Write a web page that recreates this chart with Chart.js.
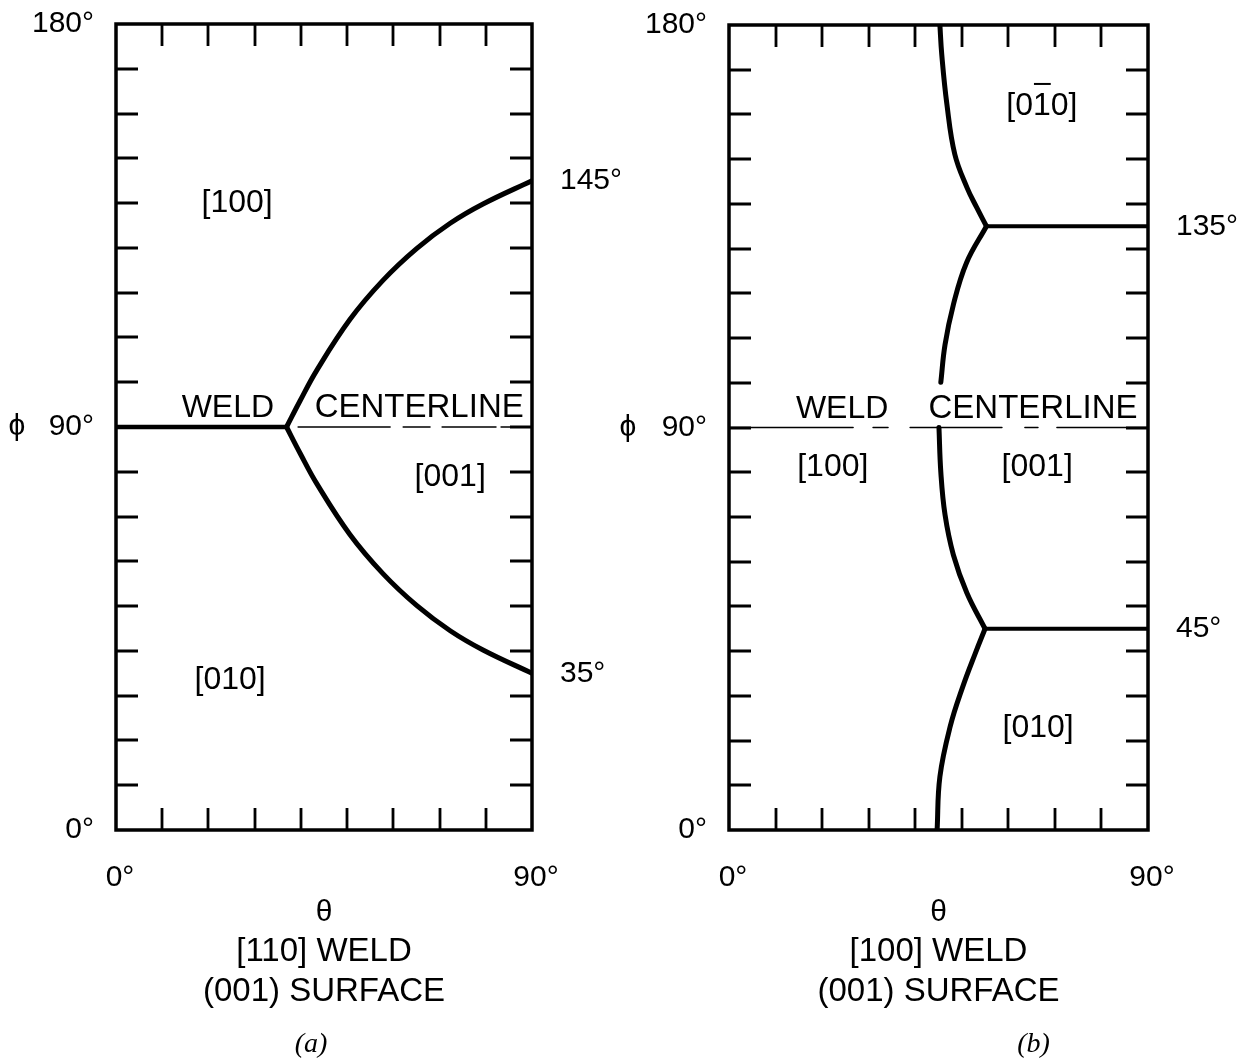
<!DOCTYPE html>
<html>
<head>
<meta charset="utf-8">
<script src="https://cdn.jsdelivr.net/npm/chart.js@4.4.1/dist/chart.umd.min.js"></script>
<style>
  html, body { margin: 0; padding: 0; background: #fff; }
  #wrap { position: relative; width: 1245px; height: 1061px; }
  canvas { position: absolute; top: 0; }
</style>
</head>
<body>
<div id="wrap">
  <canvas id="chartA" width="620" height="1061" style="left:0px"></canvas>
  <canvas id="chartB" width="625" height="1061" style="left:620px"></canvas>
</div>
<script>
// ---------- Axes ----------
const thetaTickValues = [0, 90];
const thetaTickLabels = ["0°", "90°"];
const phiTickValues = [0, 90, 180];
const phiTickLabels = ["0°", "90°", "180°"];

// ---------- Panel (a): [110] weld ----------
const weldA_theta = [0, 37];
const weldA_phi = [90, 90];
const upperA_theta = [36.9, 39.8, 43.4, 50.6, 57.8, 65.1, 72.3, 79.4, 90];
const upperA_phi = [90, 95.8, 102.6, 114, 122.8, 129.9, 135.5, 139.8, 145];
const lowerA_theta = [36.9, 39.8, 43.4, 50.6, 57.8, 65.1, 72.3, 79.4, 90];
const lowerA_phi = [90, 84.2, 77.4, 66, 57.2, 50.1, 44.5, 40.2, 35];
const centerA_theta = [39.4, 90];
const centerA_phi = [90, 90];
const endA_values = [145, 35];
const endA_labels = ["145°", "35°"];
const regionA_text = ["[100]", "[010]", "[001]", "WELD", "CENTERLINE"];
const regionA_theta = [26.2, 24.7, 72.3, 24.2, 65.6];
const regionA_phi = [140, 33.5, 78.8, 94.2, 94.2];
const captionA = ["[110] WELD", "(001) SURFACE", "(a)"];

// ---------- Panel (b): [100] weld ----------
const arcB1_theta = [44.7, 45.3, 47.5, 50.2, 52.9, 55];
const arcB1_phi = [0, 11.9, 23.1, 32, 39.5, 45];
const arcB2_theta = [55, 51.1, 48.2, 46.4, 45.5, 45.1];
const arcB2_phi = [45, 53, 61.5, 70.5, 80, 90];
const arcB3_theta = [45.5, 46.4, 48.2, 51.0, 55.3];
const arcB3_phi = [100.1, 108.5, 117.5, 126.8, 135];
const arcB4_theta = [55.3, 53.2, 51.1, 48.5, 46.8, 45.7, 45.3];
const arcB4_phi = [135, 139.2, 143.7, 151.1, 162.3, 173.4, 180];
const h45_theta = [55, 90];
const h45_phi = [45, 45];
const h135_theta = [55.3, 90];
const h135_phi = [135, 135];
const centerB_theta = [0, 90];
const centerB_phi = [90, 90];
const endB_values = [135, 45];
const endB_labels = ["135°", "45°"];
const regionB_text = ["[01\u03040]", "[100]", "[001]", "[010]", "WELD", "CENTERLINE"];
const regionB_theta = [67.2, 22.3, 66.2, 66.4, 24.3, 65.3];
const regionB_phi = [161.9, 81.1, 81.1, 22.8, 94.2, 94.2];
const captionB = ["[100] WELD", "(001) SURFACE", "(b)"];

const SANS = "'Liberation Sans', Arial, sans-serif";

function line(thetas, phis, width, dash) {
    return {
        data: thetas.map((t, i) => ({ x: t, y: phis[i] })),
        showLine: true,
        borderColor: "#000",
        borderWidth: width,
        borderDash: dash || [],
        borderCapStyle: "round",
        pointRadius: 0,
        tension: 0.4,
        fill: false
    };
}

// draws text, with an overbar where a combining macron follows a digit
function drawLabel(ctx, text, px, py) {
    const bar = text.indexOf("\u0304");
    if (bar < 0) { ctx.fillText(text, px, py); return; }
    const plain = text.replace("\u0304", "");
    ctx.fillText(plain, px, py);
    const w = ctx.measureText(plain).width;
    const x0 = px - w / 2 + ctx.measureText(plain.slice(0, bar - 1)).width;
    const cw = ctx.measureText(plain[bar - 1]).width;
    ctx.fillRect(x0 + 1, py - 23, cw - 1, 2);
}

// ---------- Frame, inward ticks and all text ----------
const decorations = {
    id: "decorations",
    afterDraw(chart, args, o) {
        const { ctx, chartArea: a, scales: { x, y } } = chart;
        ctx.save();
        ctx.strokeStyle = "#000";
        ctx.fillStyle = "#000";

        // inward ticks every 10 degrees
        ctx.lineWidth = 2.8;
        ctx.beginPath();
        x.ticks.forEach(t => {
            if (t.value <= x.min || t.value >= x.max) return;
            const px = Math.round(x.getPixelForValue(t.value));
            ctx.moveTo(px, a.top); ctx.lineTo(px, a.top + 22);
            ctx.moveTo(px, a.bottom); ctx.lineTo(px, a.bottom - 22);
        });
        y.ticks.forEach(t => {
            if (t.value <= y.min || t.value >= y.max) return;
            const py = Math.round(y.getPixelForValue(t.value));
            ctx.moveTo(a.left, py); ctx.lineTo(a.left + 22, py);
            ctx.moveTo(a.right, py); ctx.lineTo(a.right - 22, py);
        });
        ctx.stroke();

        // frame
        ctx.lineWidth = 3.5;
        ctx.strokeRect(a.left, a.top, a.right - a.left, a.bottom - a.top);

        // tick labels
        ctx.font = "30px " + SANS;
        ctx.textBaseline = "middle";
        ctx.textAlign = "right";
        phiTickValues.forEach((v, i) => {
            ctx.fillText(phiTickLabels[i], a.left - 22, y.getPixelForValue(v));
        });
        ctx.textAlign = "center";
        ctx.fillText("ϕ", a.left - o.phiOffset, y.getPixelForValue(90));
        thetaTickValues.forEach((v, i) => {
            ctx.fillText(thetaTickLabels[i], x.getPixelForValue(v) + 4, a.bottom + 48);
        });

        // end values on the right edge
        ctx.textAlign = "left";
        o.endValues.forEach((v, i) => {
            ctx.fillText(o.endLabels[i], a.right + 28, y.getPixelForValue(v));
        });

        // region labels
        ctx.textAlign = "center";
        o.regionText.forEach((s, i) => {
            ctx.font = (s.length > 6 ? "33px " : "32px ") + SANS;
            drawLabel(ctx, s, x.getPixelForValue(o.regionTheta[i]), y.getPixelForValue(o.regionPhi[i]));
        });

        // axis title and caption
        const cx = (a.left + a.right) / 2;
        ctx.font = "30px " + SANS;
        ctx.fillText("θ", cx, a.bottom + 83);
        ctx.font = "33px " + SANS;
        ctx.fillText(o.caption[0], cx, a.bottom + 122);
        ctx.fillText(o.caption[1], cx, a.bottom + 162);
        ctx.font = "italic 28px 'Liberation Serif', serif";
        ctx.fillText(o.caption[2], cx + o.letterOffset, a.bottom + 215);
        ctx.restore();
    }
};

function makePanel(id, datasets, padding, deco) {
    return new Chart(document.getElementById(id), {
        type: "scatter",
        data: { datasets },
        options: {
            responsive: false,
            animation: false,
            devicePixelRatio: 1,
            layout: { padding },
            plugins: { legend: { display: false }, tooltip: { enabled: false }, decorations: deco },
            scales: {
                x: { type: "linear", min: 0, max: 90, display: false, ticks: { stepSize: 10 } },
                y: { type: "linear", min: 0, max: 180, display: false, ticks: { stepSize: 10 } }
            }
        },
        plugins: [decorations]
    });
}

makePanel("chartA", [
    line(weldA_theta, weldA_phi, 4.5),
    line(upperA_theta, upperA_phi, 5),
    line(lowerA_theta, lowerA_phi, 5),
    line(centerA_theta, centerA_phi, 1.5, [92, 13, 27, 12, 54, 5, 40])
], { left: 116, top: 24, right: 88, bottom: 231 }, {
    phiOffset: 99, letterOffset: -13,
    endValues: endA_values, endLabels: endA_labels,
    regionText: regionA_text, regionTheta: regionA_theta, regionPhi: regionA_phi,
    caption: captionA
});

makePanel("chartB", [
    line(arcB1_theta, arcB1_phi, 5),
    line(arcB2_theta, arcB2_phi, 5),
    line(arcB3_theta, arcB3_phi, 5),
    line(arcB4_theta, arcB4_phi, 5),
    line(h45_theta, h45_phi, 4),
    line(h135_theta, h135_phi, 4),
    line(centerB_theta, centerB_phi, 1.5, [124, 20, 15, 22, 92, 23, 13, 19, 91])
], { left: 109, top: 25, right: 97, bottom: 231 }, {
    phiOffset: 101, letterOffset: 95,
    endValues: endB_values, endLabels: endB_labels,
    regionText: regionB_text, regionTheta: regionB_theta, regionPhi: regionB_phi,
    caption: captionB
});
</script>
</body>
</html>
